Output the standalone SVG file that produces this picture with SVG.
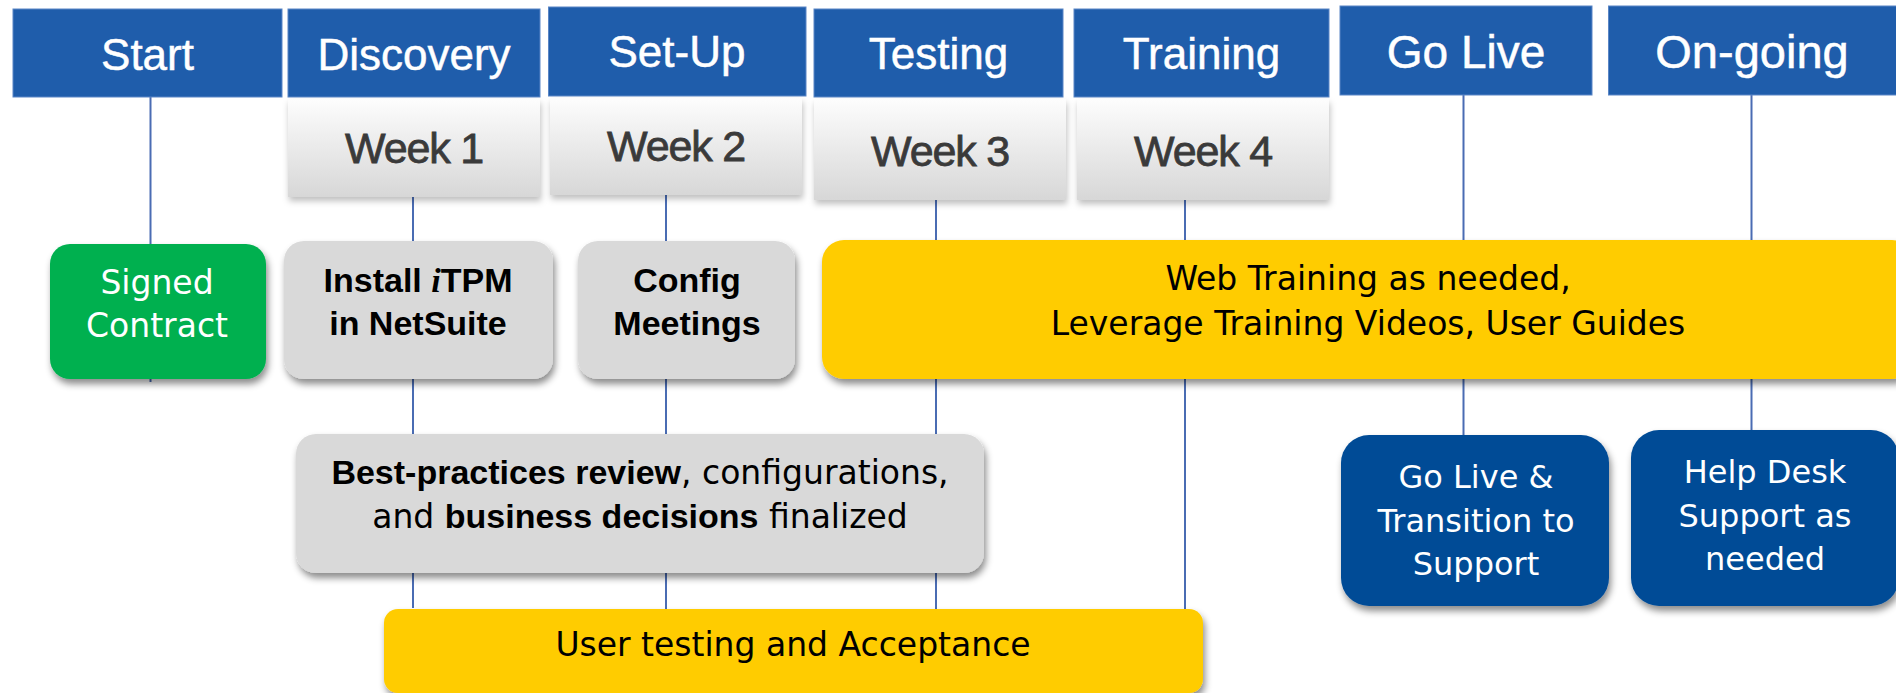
<svg xmlns="http://www.w3.org/2000/svg" width="1896" height="693" viewBox="0 0 1896 693">
<style>
.hdr{fill:#1F5DAB;stroke:#5a86c6;stroke-width:1}
.htxt{font-family:"Liberation Sans",Arial,sans-serif;font-size:44px;fill:#fff;text-anchor:middle;stroke:#fff;stroke-width:0.5px}
.wk{fill:url(#wkg)}
.wtxt{font-family:"Liberation Sans",Arial,sans-serif;font-size:43px;fill:#3A3A3A;text-anchor:middle;letter-spacing:-1.2px;stroke:#3A3A3A;stroke-width:0.8px}
.conn{stroke:#4A6CB3;stroke-width:2;fill:none}
.rtxt{font-family:"DejaVu Sans",sans-serif;font-size:33px;text-anchor:middle}
.btxt{font-family:"Liberation Sans",Arial,sans-serif;font-size:34px;font-weight:bold;text-anchor:middle;fill:#000}
.b{font-family:"Liberation Sans",Arial,sans-serif;font-weight:bold;font-size:34px}
</style>
<defs>
<linearGradient id="wkg" x1="0" y1="0" x2="0" y2="1">
<stop offset="0" stop-color="#FDFDFD"/>
<stop offset="1" stop-color="#D7D7D7"/>
</linearGradient>
<filter id="sh" x="-10%" y="-10%" width="130%" height="140%">
<feDropShadow dx="2" dy="5" stdDeviation="3.5" flood-color="#000" flood-opacity="0.45"/>
</filter>
<filter id="shl" x="-10%" y="-10%" width="130%" height="140%">
<feDropShadow dx="1" dy="4" stdDeviation="3" flood-color="#000" flood-opacity="0.25"/>
</filter>
</defs>
<rect width="1896" height="693" fill="#fff"/>

<g id="connectors">
<line class="conn" x1="150.5" y1="97" x2="150.5" y2="382"/>
<line class="conn" x1="413" y1="197" x2="413" y2="608"/>
<line class="conn" x1="666" y1="195" x2="666" y2="609"/>
<line class="conn" x1="936" y1="200" x2="936" y2="609"/>
<line class="conn" x1="1185" y1="200" x2="1185" y2="609"/>
<line class="conn" x1="1463.5" y1="95" x2="1463.5" y2="436"/>
<line class="conn" x1="1751.5" y1="95" x2="1751.5" y2="431"/>
</g>

<g id="header-start"><rect class="hdr" x="13" y="9" width="269" height="88"/><text class="htxt" x="147.5" y="70">Start</text></g>
<g id="header-discovery"><rect class="hdr" x="288" y="9" width="252" height="88"/><text class="htxt" x="414" y="70">Discovery</text></g>
<g id="header-setup"><rect class="hdr" x="548.5" y="7" width="257.5" height="89"/><text class="htxt" x="677" y="67">Set-Up</text></g>
<g id="header-testing"><rect class="hdr" x="814" y="9" width="249" height="88"/><text class="htxt" x="938.5" y="69">Testing</text></g>
<g id="header-training"><rect class="hdr" x="1074" y="9" width="255" height="88"/><text class="htxt" x="1201.5" y="69">Training</text></g>
<g id="header-golive"><rect class="hdr" x="1340" y="6" width="252" height="89"/><text class="htxt" x="1466" y="68" style="font-size:46px">Go Live</text></g>
<g id="header-ongoing"><rect class="hdr" x="1608.5" y="6" width="290" height="89"/><text class="htxt" x="1752" y="68" style="font-size:47px">On-going</text></g>

<g id="week1"><rect class="wk" filter="url(#shl)" x="288" y="99" width="252" height="98"/><text class="wtxt" x="414" y="163">Week 1</text></g>
<g id="week2"><rect class="wk" filter="url(#shl)" x="550" y="98" width="252" height="97"/><text class="wtxt" x="676" y="161">Week 2</text></g>
<g id="week3"><rect class="wk" filter="url(#shl)" x="814" y="99" width="252" height="101"/><text class="wtxt" x="940" y="166">Week 3</text></g>
<g id="week4"><rect class="wk" filter="url(#shl)" x="1077" y="99" width="252" height="101"/><text class="wtxt" x="1203" y="166">Week 4</text></g>

<g id="signed-contract"><rect filter="url(#sh)" x="50" y="244" width="216" height="135" rx="20" fill="#00B050"/>
<text class="rtxt" fill="#fff" x="157" y="294">Signed</text><text class="rtxt" fill="#fff" x="157" y="337">Contract</text></g>

<g id="install-itpm"><rect filter="url(#sh)" x="284" y="241" width="269" height="138" rx="20" fill="#D9D9D9"/>
<text class="btxt" x="418" y="292">Install <tspan font-family="Liberation Serif" font-style="italic">i</tspan>TPM</text><text class="btxt" x="418" y="335">in NetSuite</text></g>

<g id="config-meetings"><rect filter="url(#sh)" x="578" y="241" width="217" height="138" rx="20" fill="#D9D9D9"/>
<text class="btxt" x="687" y="292">Config</text><text class="btxt" x="687" y="335">Meetings</text></g>

<g id="web-training"><rect filter="url(#sh)" x="822" y="240" width="1092" height="139" rx="22" fill="#FFCC00"/>
<text class="rtxt" fill="#000" x="1368" y="290">Web Training as needed,</text><text class="rtxt" fill="#000" x="1368" y="335">Leverage Training Videos, User Guides</text></g>

<g id="best-practices"><rect filter="url(#sh)" x="296" y="434" width="688" height="139" rx="20" fill="#D9D9D9"/>
<text class="rtxt" fill="#000" x="640" y="484"><tspan class="b">Best-practices review</tspan>, configurations,</text>
<text class="rtxt" fill="#000" x="640" y="528">and <tspan class="b">business decisions</tspan> finalized</text></g>

<g id="user-testing"><rect filter="url(#sh)" x="384" y="609" width="819" height="84" rx="14" fill="#FFCC00"/>
<text class="rtxt" fill="#000" x="793" y="656">User testing and Acceptance</text></g>

<g id="go-live-transition"><rect filter="url(#sh)" x="1341" y="435" width="268" height="171" rx="28" fill="#024C96"/>
<text class="rtxt" fill="#fff" x="1476" y="488" style="font-size:32px">Go Live &amp;</text>
<text class="rtxt" fill="#fff" x="1476" y="532" style="font-size:32px">Transition to</text>
<text class="rtxt" fill="#fff" x="1476" y="575" style="font-size:32px">Support</text></g>

<g id="help-desk"><rect filter="url(#sh)" x="1631" y="430" width="268" height="176" rx="28" fill="#024C96"/>
<text class="rtxt" fill="#fff" x="1765" y="483" style="font-size:32px">Help Desk</text>
<text class="rtxt" fill="#fff" x="1765" y="527" style="font-size:32px">Support as</text>
<text class="rtxt" fill="#fff" x="1765" y="570" style="font-size:32px">needed</text></g>
</svg>
